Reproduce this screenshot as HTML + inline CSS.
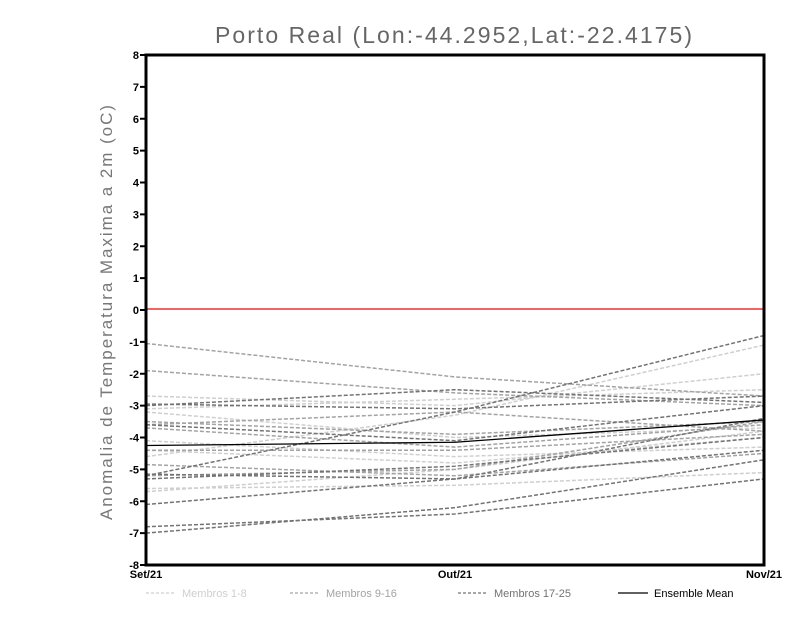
<!DOCTYPE html>
<html><head><meta charset="utf-8"><style>
body{margin:0;background:#fff;}
svg{display:block;font-family:"Liberation Sans",sans-serif;}
</style></head><body>
<svg id="chart" width="800" height="618">
<text x="215" y="43" textLength="477" lengthAdjust="spacing" font-size="23" fill="#666">Porto Real (Lon:-44.2952,Lat:-22.4175)</text>
<text transform="translate(112,520) rotate(-90)" textLength="415" lengthAdjust="spacing" font-size="17" fill="#777">Anomalia de Temperatura Maxima a 2m (oC)</text>
<g id="ticks"></g>
<g id="lines"></g>
<line x1="146" y1="309" x2="764" y2="309" stroke="#f03030" stroke-width="1.5"/>
<g id="mean"></g>
<rect x="146" y="55" width="618" height="510" fill="none" stroke="#000" stroke-width="3"/>
<g id="legend"></g>
</svg>
<script>
const categories=["Set/21","Out/21","Nov/21"];
const yTicks=[8,7,6,5,4,3,2,1,0,-1,-2,-3,-4,-5,-6,-7,-8];
const members1to8=[[-2.7,-3.0,-2.0],[-3.1,-2.8,-2.5],[-4.6,-3.3,-1.1],[-3.2,-4.0,-3.7],[-4.1,-4.6,-4.3],[-5.6,-5.5,-5.1],[-5.7,-5.0,-3.8],[-4.4,-4.8,-4.0]];
const members9to16=[[-1.05,-2.1,-2.7],[-1.9,-2.6,-3.0],[-3.5,-3.9,-3.5],[-3.7,-4.3,-3.6],[-4.4,-4.4,-3.9],[-4.85,-5.2,-4.5],[-5.2,-5.0,-3.5],[-3.6,-3.2,-3.8]];
const members17to25=[[-5.2,-3.2,-0.8],[-3.0,-2.5,-2.9],[-2.95,-3.1,-2.7],[-3.6,-4.1,-3.0],[-5.15,-5.3,-3.4],[-5.3,-4.9,-4.0],[-6.1,-5.3,-4.4],[-6.8,-6.4,-5.3],[-7.0,-6.2,-4.7]];
const ensembleMean=[-4.25,-4.15,-3.45];
const legendLabels=["Membros 1-8","Membros 9-16","Membros 17-25","Ensemble Mean"];
const NS="http://www.w3.org/2000/svg";
const X0=146,X1=764,Y0=565,Y1=55;
function xs(i){return X0+i*(X1-X0)/(categories.length-1);}
function ys(v){return Y0-(v+8)*(Y0-Y1)/16;}
function mk(t,a,p){const e=document.createElementNS(NS,t);for(const k in a)e.setAttribute(k,a[k]);p.appendChild(e);return e;}
const tk=document.getElementById('ticks');
yTicks.forEach(v=>{
 const l=mk('line',{x1:140,x2:146,y1:ys(v),y2:ys(v),stroke:'#000','stroke-width':2},tk);
 
 
 const t=mk('text',{x:139,y:ys(v)+4,'text-anchor':'end','font-size':11,'font-weight':'bold'},tk);
 t.textContent=v;
 
 
});
categories.forEach((c,i)=>{
 const t=mk('text',{x:xs(i),y:578,'text-anchor':'middle','font-size':11,'font-weight':'bold'},tk);
 t.textContent=c;
 
 
});
function pts(a){return a.map((v,i)=>xs(i)+','+ys(v)).join(' ');}
const lg=document.getElementById('lines');
[[members1to8,'#cfcfcf'],[members9to16,'#a3a3a3'],[members17to25,'#737373']].forEach(([set,col])=>{
 set.forEach(m=>{
  const p=mk('polyline',{points:pts(m),fill:'none',stroke:col,'stroke-width':1.5,'stroke-dasharray':'4,2'},lg);
  
  
 });
});
const mp=mk('polyline',{points:pts(ensembleMean),fill:'none',stroke:'#000','stroke-width':1.3},document.getElementById('mean'));


const leg=document.getElementById('legend');
const lx=[146,290,458,618],lc=['#cfcfcf','#a3a3a3','#737373','#000'];
legendLabels.forEach((s,i)=>{
 const l=mk('line',{x1:lx[i],x2:lx[i]+30,y1:593,y2:593,stroke:lc[i],'stroke-width':1.2,'stroke-dasharray':i<3?'3,2':'none'},leg);
 
 
 const t=mk('text',{x:lx[i]+36,y:597,'font-size':11,fill:i==3?'#000':lc[i]},leg);
 t.textContent=s;
 
 
});
</script>
</body></html>
